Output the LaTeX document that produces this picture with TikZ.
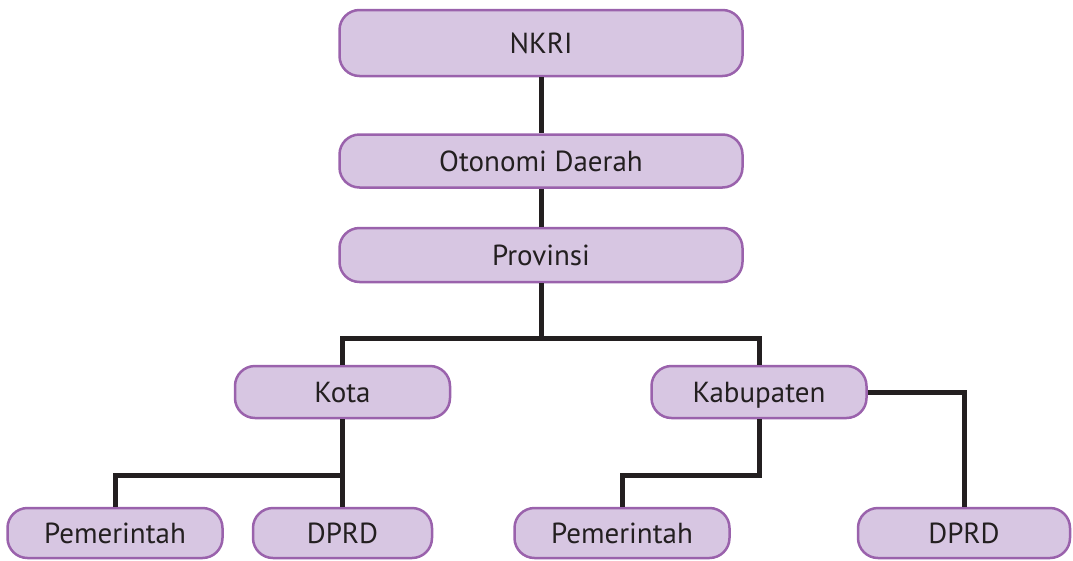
\documentclass[tikz,border=0pt]{standalone}
\usepackage{fontspec}
\setmainfont{PT Sans}
\usepackage{tikz}
\usetikzlibrary{positioning}
\definecolor{boxfill}{HTML}{D7C6E2}
\definecolor{boxline}{HTML}{9A62AC}
\definecolor{ink}{HTML}{231F20}
\begin{document}
\begin{tikzpicture}[
    x=1pt,y=-1pt,
    node distance=56pt and 30pt,
    mybox/.style={draw=boxline,fill=boxfill,line width=2.5pt,rounded corners=20pt,
        minimum width=215pt,minimum height=52pt,inner sep=0pt,text=ink,
        text height=20pt,text depth=0pt,font=\fontsize{29}{32}\selectfont},
    link/.style={draw=ink,line width=5pt}
    ]

    \useasboundingbox (0,0) rectangle (1073,560);

    \node[mybox,minimum width=403pt,minimum height=66pt] (nkri) at (541,43) {NKRI};
    \node[mybox,minimum width=403pt,minimum height=53pt,below=56pt of nkri] (otda) {Otonomi Daerah};
    \node[mybox,minimum width=403pt,minimum height=54pt,below=38pt of otda] (prov) {Provinsi};
    \node[mybox] (kota) at (342.5,392) {Kota};
    \node[mybox] (kab) at (759,392) {Kabupaten};
    \node[mybox,minimum height=50pt] (pem1) at (115,533) {Pemerintah};
    \node[mybox,minimum height=50pt,minimum width=179pt] (dprd1) at (342.5,533) {DPRD};
    \node[mybox,minimum height=50pt] (pem2) at (622,533) {Pemerintah};
    \node[mybox,minimum height=50pt,minimum width=212pt] (dprd2) at (964,533) {DPRD};

    \coordinate (j1) at ([yshift=-55pt]prov.south);
    \coordinate (j2) at ([yshift=-56pt]kota.south);
    \coordinate (j3) at ([yshift=-56pt]kab.south);

    \draw[link] (nkri) -- (otda);
    \draw[link] (otda) -- (prov);
    \draw[link] (prov) -- (j1);
    \draw[link] (kota.north) |- (j1) -| (kab.north);
    \draw[link] (kota) -- (dprd1);
    \draw[link] (j2) -| (pem1.north);
    \draw[link] (kab) -- (j3) -| (pem2.north);
    \draw[link] (kab.east) -| (dprd2.north);

\end{tikzpicture}
\end{document}
